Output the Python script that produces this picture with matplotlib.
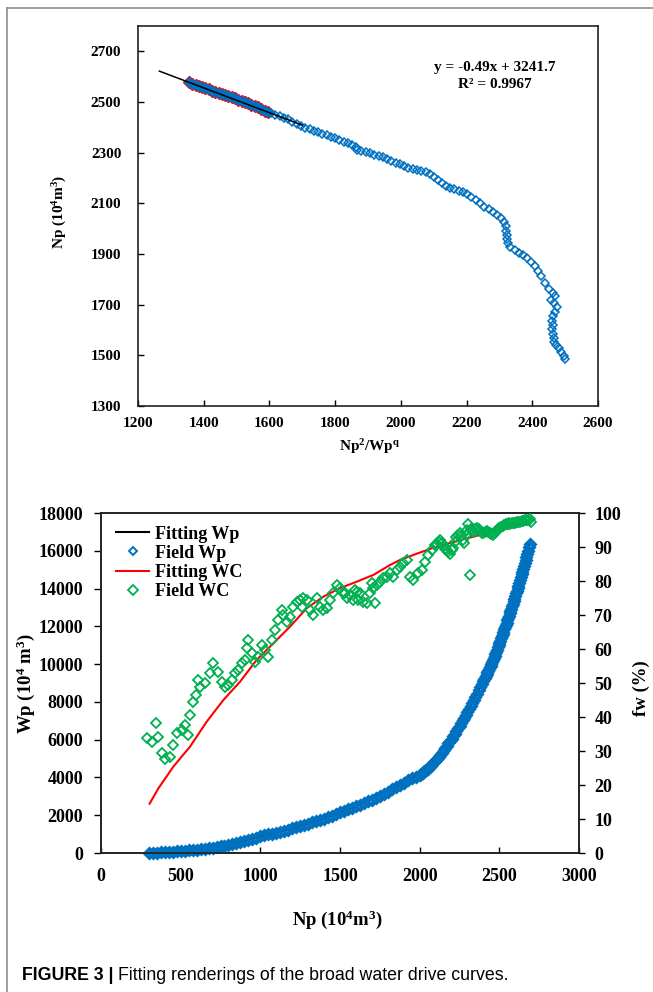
import matplotlib
matplotlib.use('Agg')
import matplotlib.pyplot as plt
from matplotlib.lines import Line2D
import numpy as np

# ---------------- data: top chart (Np vs Np^2/Wp^q) ----------------
top_x = [1355, 1365, 1375, 1385, 1395, 1405, 1415, 1425, 1435, 1445, 1455, 1465, 1475,
         1485, 1495, 1505, 1515, 1525, 1535, 1545, 1555, 1565, 1575, 1585, 1595,
         1605, 1618, 1631, 1644, 1657, 1670, 1683, 1696, 1709, 1722, 1735, 1748, 1761,
         1774, 1787, 1800, 1813, 1826, 1839, 1852, 1862, 1868, 1880, 1893, 1906, 1919,
         1932, 1945, 1958, 1971, 1984, 1997, 2010, 2023, 2036, 2049, 2062, 2075, 2088,
         2100, 2112, 2124, 2137, 2150, 2163, 2176, 2189, 2202, 2215, 2228, 2241, 2254,
         2267, 2280, 2293, 2305, 2315, 2319, 2321, 2322, 2322, 2325, 2333, 2346, 2359,
         2372, 2385, 2397, 2408, 2418, 2428, 2440, 2452, 2464, 2470, 2458, 2466, 2474,
         2470, 2462, 2460, 2464, 2461, 2462, 2465, 2466, 2472, 2480, 2488, 2495, 2500]
top_np = [2578, 2572, 2569, 2563, 2560, 2554, 2550, 2545, 2541, 2536, 2532, 2527, 2523,
          2518, 2514, 2509, 2504, 2499, 2495, 2490, 2485, 2479, 2472, 2466, 2459,
          2456, 2449, 2443, 2437, 2431, 2422, 2413, 2405, 2398, 2392, 2386, 2381, 2375,
          2369, 2363, 2357, 2351, 2344, 2338, 2331, 2322, 2310, 2305, 2301, 2297, 2292,
          2287, 2281, 2275, 2268, 2261, 2254, 2248, 2241, 2236, 2232, 2227, 2222, 2214,
          2204, 2193, 2182, 2170, 2162, 2156, 2150, 2143, 2135, 2125, 2113, 2100, 2087,
          2077, 2066, 2055, 2043, 2028, 2010, 1992, 1975, 1958, 1942, 1928, 1916, 1905,
          1896, 1883, 1868, 1853, 1834, 1813, 1787, 1763, 1746, 1733, 1720, 1706, 1690,
          1672, 1655, 1637, 1620, 1603, 1586, 1569, 1553, 1540, 1527, 1512, 1497, 1487]
fit_range_max = 1600
fit_x = [1265, 1700]
fit_y = [2621.85, 2408.7]
eq_text = "y = -0.49x + 3241.7"
r2_text = "R\u00b2 = 0.9967"

# ---------------- data: bottom chart ----------------
wp_np = [300, 325, 350, 375, 400, 425, 450, 475, 500, 525, 550, 575, 600, 625, 650, 675,
         700, 725, 750, 775, 800, 825, 850, 875, 900, 925, 950, 975, 1000, 1025, 1050,
         1075, 1100, 1125, 1150, 1175, 1200, 1225, 1250, 1275, 1300, 1325, 1350, 1375,
         1400, 1425, 1450, 1475, 1500, 1525, 1550, 1575, 1600, 1625, 1650, 1675, 1700,
         1725, 1750, 1775, 1800, 1825, 1850, 1875, 1900, 1925, 1950, 1975, 2000,
         2010, 2020, 2030, 2040, 2050, 2060, 2070, 2080, 2090, 2100, 2110, 2120, 2130,
         2140, 2150, 2160, 2170, 2180, 2190, 2200, 2210, 2220, 2230, 2240, 2250, 2260,
         2270, 2280, 2290, 2300, 2310, 2320, 2330, 2340, 2350, 2360, 2370, 2380, 2390,
         2400, 2405, 2410, 2415, 2420, 2425, 2430, 2435, 2440, 2445, 2450, 2455, 2460,
         2465, 2470, 2475, 2480, 2485, 2490, 2495, 2500, 2505, 2510, 2515, 2520, 2525,
         2530, 2535, 2540, 2545, 2550, 2555, 2560, 2565, 2570, 2575, 2580, 2585, 2590,
         2595, 2600, 2605, 2610, 2615, 2620, 2625, 2630, 2635, 2640, 2645, 2650, 2655,
         2660, 2665, 2670, 2675, 2680, 2685, 2690]
wp = [0, 10, 20, 30, 40, 55, 70, 85, 100, 120, 140, 160, 180, 205, 230, 255,
      280, 310, 345, 380, 420, 465, 520, 575, 640, 700, 760, 820, 880, 930, 980,
      1030, 1080, 1130, 1185, 1240, 1300, 1360, 1420, 1485, 1550, 1615, 1685, 1750,
      1820, 1900, 1980, 2060, 2150, 2230, 2310, 2390, 2470, 2560, 2650, 2740, 2830,
      2930, 3030, 3140, 3250, 3370, 3490, 3610, 3730, 3840, 3950, 4050, 4150,
      4200, 4260, 4330, 4400, 4470, 4550, 4630, 4720, 4810, 4900, 5000, 5100, 5210,
      5320, 5440, 5560, 5680, 5800, 5930, 6060, 6190, 6320, 6460, 6600, 6740, 6880,
      7020, 7170, 7320, 7470, 7620, 7780, 7940, 8100, 8270, 8440, 8610, 8780, 8950,
      9120, 9205, 9290, 9380, 9470, 9560, 9650, 9740, 9830, 9920, 10010, 10110, 10210,
      10310, 10420, 10530, 10640, 10760, 10880, 11000, 11120, 11240, 11360, 11480, 11600, 11720,
      11840, 11960, 12080, 12200, 12320, 12440, 12560, 12680, 12810, 12940, 13070, 13200, 13330,
      13460, 13600, 13740, 13880, 14020, 14160, 14300, 14450, 14600, 14750, 14900, 15050, 15200,
      15360, 15520, 15680, 15840, 16000, 16180, 16380]

fitwp_np = [300, 500, 800, 1000, 1200, 1400, 1600, 1800, 2000, 2100, 2200, 2300, 2400, 2500, 2600, 2690]
fitwp = [0, 100, 420, 880, 1300, 1820, 2470, 3250, 4150, 4900, 6060, 7470, 9120, 11120, 13600, 16380]

wcfit_np = [305, 360, 454, 559, 663, 768, 873, 977, 1082, 1187, 1291, 1396, 1500, 1605,
            1710, 1814, 1877, 1980, 2076, 2200, 2300, 2400, 2500, 2600, 2690]
wcfit = [14.5, 19.0, 25.4, 31.3, 38.6, 45.0, 50.4, 56.8, 61.7, 66.6, 72.0, 75.4, 77.9, 79.8,
         81.8, 84.7, 86.2, 88.0, 89.6, 91.3, 92.6, 93.8, 94.9, 95.9, 96.8]

wc_np = [287, 318, 345, 360, 381, 402, 433, 454, 479, 506, 527, 544, 559, 580, 596, 611,
         621, 653, 684, 705, 736, 758, 778, 799, 820, 841, 862, 883, 904, 914, 925, 946,
         967, 988, 1009, 1030, 1050, 1071, 1092, 1113, 1134, 1144, 1165, 1186, 1207, 1228,
         1249, 1260, 1270, 1291, 1312, 1333, 1354, 1375, 1396, 1417, 1438, 1458, 1479, 1500,
         1521, 1532, 1542, 1563, 1584, 1594, 1605, 1615, 1626, 1647, 1668, 1689, 1699, 1709,
         1720, 1731, 1751, 1772, 1793, 1814, 1835, 1856, 1877, 1898, 1919, 1940, 1961, 1992,
         2013, 2034, 2055, 2076, 2097,
         2100, 2110, 2120, 2130, 2140, 2150, 2160, 2170, 2180, 2190, 2200, 2210, 2220, 2230,
         2240, 2250, 2260, 2270, 2280, 2290, 2300, 2306, 2317, 2320, 2330, 2340, 2350, 2360,
         2370, 2380, 2390, 2400, 2410, 2420, 2430, 2440, 2450, 2460, 2470, 2480, 2490, 2500,
         2510, 2520, 2530, 2540, 2550, 2560, 2570, 2580, 2590, 2600, 2610, 2620, 2630, 2640,
         2650, 2660, 2670, 2680, 2690, 2700]
wc = [33.7, 32.7, 38.3, 34.2, 29.5, 27.6, 28.3, 31.8, 35.2, 36.2, 37.6, 34.7, 40.6, 44.5, 46.5, 50.9,
      48.9, 49.9, 52.8, 55.8, 53.3, 50.4, 48.9, 49.4, 50.9, 52.8, 53.8, 55.8, 56.8, 60.2, 62.6, 58.7,
      56.3, 57.7, 61.2, 59.7, 57.7, 62.6, 65.6, 68.5, 71.5, 70.0, 68.0, 69.5, 72.4, 73.9,
      74.4, 72.4, 74.9, 74.4, 71.5, 70.0, 74.9, 72.4, 71.5, 72.0, 74.4, 76.4, 78.8, 77.9,
      76.4, 76.4, 74.9, 75.9, 74.4, 77.4, 76.9, 74.4, 76.4, 73.9, 73.4, 76.4, 79.3, 77.9,
      73.4, 78.8, 79.8, 80.8, 81.3, 82.3, 81.3, 83.2, 84.2, 85.2, 86.2, 81.3, 80.3, 82.3,
      83.2, 85.7, 87.6, 89.1, 90.6,
      90.5, 91.0, 91.5, 92.0, 91.2, 90.3, 89.5, 89.2, 88.5, 87.8, 89.0, 89.8, 91.5, 93.0,
      93.6, 94.0, 93.2, 92.0, 91.3, 93.5, 95.0, 96.9, 81.8, 95.2, 94.6, 94.3, 95.3, 95.6,
      95.2, 94.6, 94.2, 94.0, 94.3, 94.6, 94.5, 94.0, 93.7, 93.6, 94.2, 94.8, 95.4, 95.7,
      96.0, 96.3, 96.5, 96.7, 96.9, 97.0, 96.9, 97.0, 97.1, 97.2, 97.3, 97.4, 97.5, 97.6,
      97.7, 97.8, 97.9, 98.0, 98.1, 97.5]

legend_labels = ["Fitting Wp", "Field Wp", "Fitting WC", "Field WC"]
caption_bold = "FIGURE 3 | "
caption_rest = "Fitting renderings of the broad water drive curves."

# ---------------- style ----------------
plt.rcParams['font.family'] = ['Liberation Serif', 'DejaVu Serif']
plt.rcParams['font.weight'] = 'bold'
plt.rcParams['mathtext.fontset'] = 'custom'
plt.rcParams['mathtext.rm'] = 'Liberation Serif:bold'
plt.rcParams['mathtext.it'] = 'Liberation Serif:bold:italic'
plt.rcParams['mathtext.bf'] = 'Liberation Serif:bold'

BLUE = '#0070C0'
GREEN = '#00B050'
RED = '#FF0000'

W, H = 653, 992
fig = plt.figure(figsize=(W / 100, H / 100), dpi=100)
fig.patch.set_facecolor('white')


def fx(px):
    return px / W


def fy(py):
    return 1 - py / H


# ---------------- top chart ----------------
ax1 = fig.add_axes([fx(138), fy(406), fx(598) - fx(138), fy(26) - fy(406)])
tx = np.array(top_x)
ty = np.array(top_np)
m = tx <= fit_range_max
ax1.plot(tx[m], ty[m], ls='none', marker='D', ms=6.6, mfc=RED, mec=RED, mew=1.0, zorder=2)
ax1.plot(tx[m], ty[m], ls='none', marker='D', ms=5.4, mfc=BLUE, mec=BLUE, mew=0.8, zorder=3)
ax1.plot(tx[~m], ty[~m], ls='none', marker='D', ms=3.6, mfc='none', mec=BLUE, mew=1.1, zorder=3)
ax1.plot(fit_x, fit_y, color='black', lw=1.1, zorder=4)
ax1.set_xlim(1200, 2600)
ax1.set_ylim(1300, 2800)
ax1.set_xticks(range(1200, 2601, 200))
ax1.set_yticks(range(1300, 2701, 200))
ax1.tick_params(axis='both', direction='in', length=4, width=1.0, labelsize=11)
ax1.tick_params(axis='x', pad=8)
ax1.tick_params(axis='y', pad=12)
for s in ax1.spines.values():
    s.set_linewidth(1.2)
    s.set_color('#222222')

fig.text(fx(495), fy(67), eq_text, ha='center', va='center', fontsize=11)
fig.text(fx(495), fy(85), r2_text, ha='center', va='center', fontsize=11)
fig.text(fx(60), fy(212), r'Np (10$^{4}$m$^{3}$)', rotation=90, ha='center', va='center', fontsize=11)
fig.text(fx(370), fy(447), r'Np$^{2}$/Wp$^{\mathrm{q}}$', ha='center', va='center', fontsize=11)

# ---------------- bottom chart ----------------
ax2 = fig.add_axes([fx(101), fy(853), fx(579) - fx(101), fy(513) - fy(853)])
ax3 = ax2.twinx()
l1, = ax2.plot(fitwp_np, fitwp, color='black', lw=1.5, zorder=2)
l2, = ax2.plot(wp_np, wp, ls='none', marker='D', ms=5.2, mfc='none', mec=BLUE, mew=2.1,
               zorder=3, clip_on=False)
l3, = ax3.plot(wcfit_np, wcfit, color=RED, lw=1.5, zorder=2)
l4, = ax3.plot(wc_np, wc, ls='none', marker='D', ms=4.9, mfc='none', mec=GREEN, mew=1.3, zorder=3)

ax2.set_xlim(0, 3000)
ax2.set_ylim(0, 18000)
ax3.set_ylim(0, 100)
ax2.set_xticks(range(0, 3001, 500))
ax2.set_yticks(range(0, 18001, 2000))
ax3.set_yticks(range(0, 101, 10))
ax2.tick_params(axis='x', direction='in', length=4, width=1.0, pad=11, labelsize=13)
ax2.tick_params(axis='y', direction='out', length=5, width=1.0, pad=8, labelsize=13)
ax3.tick_params(axis='y', direction='out', length=4, width=1.0, pad=7, labelsize=13)
for a in (ax2, ax3):
    for s in a.spines.values():
        s.set_linewidth(1.2)
        s.set_color('#222222')

leg_handles = [Line2D([], [], color='black', lw=1.5),
               Line2D([], [], ls='none', marker='D', ms=4.3, mfc='none', mec=BLUE, mew=1.4),
               Line2D([], [], color=RED, lw=1.5),
               Line2D([], [], ls='none', marker='D', ms=4.6, mfc='none', mec=GREEN, mew=1.3)]
ax3.legend(leg_handles, legend_labels, loc='upper left', bbox_to_anchor=(0.031, 0.963),
           frameon=False, prop={'family': 'Liberation Serif', 'weight': 'bold', 'size': 13},
           handlelength=1.85, handletextpad=0.3, labelspacing=0.12, borderpad=0,
           borderaxespad=0, numpoints=1)

fig.text(fx(337), fy(920), r'Np (10$^{4}$m$^{3}$)', ha='center', va='center', fontsize=13.5)
fig.text(fx(26), fy(684), r'Wp (10$^{4}$ m$^{3}$)', rotation=90, ha='center', va='center', fontsize=13.5)
fig.text(fx(641), fy(688), 'fw (%)', rotation=90, ha='center', va='center', fontsize=13.5)

# ---------------- frame and caption ----------------
fig.add_artist(Line2D([fx(7), 1], [fy(8), fy(8)], transform=fig.transFigure, color='#8f8f8f', lw=1.2))
fig.add_artist(Line2D([fx(7), fx(7)], [fy(8), 0], transform=fig.transFigure, color='#8f8f8f', lw=1.2))

t1 = fig.text(fx(22), fy(975), caption_bold, ha='left', va='center', fontsize=12.8,
              family='Liberation Sans', weight='bold')
fig.canvas.draw()
bb = t1.get_window_extent(renderer=fig.canvas.get_renderer())
fig.text(bb.x1 / W, fy(975), caption_rest, ha='left', va='center', fontsize=12.8,
         family='Liberation Sans', weight='normal')

fig.savefig('out.png', dpi=100)
